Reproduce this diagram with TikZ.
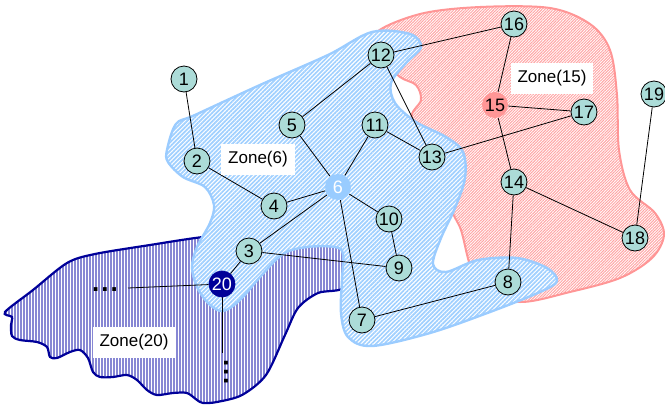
\documentclass[tikz,border=0pt]{standalone}
\usepackage{fontspec}
\setmainfont{Liberation Sans}
\usetikzlibrary{patterns.meta}
\definecolor{bline}{RGB}{155,204,255}
\definecolor{bhatch}{RGB}{160,208,255}
\definecolor{rline}{RGB}{255,150,150}
\definecolor{rhatch}{RGB}{255,165,165}
\definecolor{nline}{RGB}{0,0,153}
\definecolor{nhatch}{RGB}{135,135,212}
\definecolor{nodefill}{RGB}{172,220,216}
\definecolor{sixfill}{RGB}{153,204,255}
\definecolor{fiftfill}{RGB}{255,150,150}
\pgfdeclarelayer{zones}
\pgfdeclarelayer{edges}
\pgfsetlayers{zones,edges,main}
\begin{document}
\begin{tikzpicture}[x=1pt,y=-1pt,
  nd/.style={circle,draw=black,line width=0.8pt,fill=nodefill,minimum size=26pt,inner sep=0pt,font=\fontsize{18}{18}\selectfont},
  zonelabel/.style={fill=white,inner xsep=7pt,minimum height=31pt,font=\fontsize{17}{17}\selectfont},
  edge/.style={draw=black,line width=0.8pt},
  dotsstyle/.style={inner sep=0pt,font=\fontsize{26}{26}\selectfont\bfseries}]
\useasboundingbox (0,0) rectangle (665,410);
\begin{pgfonlayer}{zones}
% Zone 15 (red)
\path[preaction={fill=white},draw=rline,line width=2pt,pattern={Lines[angle=45,distance=2pt,line width=1pt]},pattern color=rhatch]
  plot[smooth cycle,tension=0.55] coordinates {
  (375,34) (420,14) (480,7) (550,8) (590,24) (610,50) (617,95) (619,150) (630,190)
  (655,213) (664,235) (652,258) (620,278) (570,292) (520,302) (480,290) (469,262)
  (461,230) (450,205) (440,150) (412,119) (421,100) (416,85) (400,77) (385,60)};
% Zone 20 (navy)
\path[preaction={fill=white},draw=nline,line width=2.2pt,pattern={Lines[angle=90,distance=3pt,line width=1.1pt]},pattern color=nhatch]
  plot[smooth cycle,tension=0.5] coordinates {
  (5,312) (33,290) (67,263) (95,254) (150,245) (203,237) (260,232) (320,236) (348,255)
  (345,287) (318,293) (298,308) (285,335) (266,375) (242,395) (217,402) (203,403)
  (197,400) (187,393) (173,393) (157,395) (147,390) (137,380) (127,375) (113,377)
  (100,377) (93,372) (88,358) (80,350) (70,352) (57,358) (50,357) (47,347) (37,342)
  (20,340) (12,336) (11,325) (12,317)};
% Zone 6 (blue)
\path[preaction={fill=white},draw=bline,line width=2.4pt,pattern={Lines[angle=45,distance=3pt,line width=1.7pt]},pattern color=bhatch]
  plot[smooth cycle,tension=0.55] coordinates {
  (167,150) (176,124) (195,115) (260,85) (328,55) (372,32) (410,34) (421,47) (406,63)
  (391,83) (395,103) (416,122) (446,137) (463,152) (465,178) (455,208) (441,238)
  (433,264) (446,272) (478,260) (517,258) (547,268) (557,281) (540,292) (490,312)
  (430,333) (372,346) (348,337) (341,313) (342,280) (343,254) (335,247) (307,247)
  (283,254) (260,277) (240,300) (223,311) (209,304) (197,287) (192,267) (197,247)
  (210,223) (214,205) (205,187) (183,177) (168,162)};
\end{pgfonlayer}
% nodes
\node[nd] (n1) at (184,79) {1};
\node[nd] (n2) at (197,161) {2};
\node[nd] (n3) at (249,251) {3};
\node[nd] (n4) at (274,206) {4};
\node[nd] (n5) at (292,125) {5};
\node[nd,draw=none,fill=sixfill,text=white] (n6) at (338,187) {6};
\node[nd] (n7) at (362,320) {7};
\node[nd] (n8) at (508,282) {8};
\node[nd] (n9) at (399,268) {9};
\node[nd] (n10) at (389,219) {10};
\node[nd] (n11) at (375,125) {11};
\node[nd] (n12) at (381,55) {12};
\node[nd] (n13) at (432,157) {13};
\node[nd] (n14) at (514,182) {14};
\node[nd,draw=none,fill=fiftfill] (n15) at (495,105) {15};
\node[nd] (n16) at (514,24) {16};
\node[nd] (n17) at (584,112) {17};
\node[nd] (n18) at (635,238) {18};
\node[nd] (n19) at (654,94) {19};
\node[nd,draw=nline,fill=nline,text=white] (n20) at (222,284) {20};
\coordinate (lend) at (128,288);
\coordinate (dend) at (222,353);
% edges
\begin{pgfonlayer}{edges}
\path[edge] (n1) -- (n2);
\path[edge] (n2) -- (n4);
\path[edge] (n4) -- (n6);
\path[edge] (n5) -- (n6);
\path[edge] (n5) -- (n12);
\path[edge] (n6) -- (n11);
\path[edge] (n6) -- (n3);
\path[edge] (n6) -- (n10);
\path[edge] (n6) -- (n7);
\path[edge] (n3) -- (n20);
\path[edge] (n3) -- (n9);
\path[edge] (n10) -- (n9);
\path[edge] (n11) -- (n13);
\path[edge] (n12) -- (n13);
\path[edge] (n12) -- (n16);
\path[edge] (n13) -- (n17);
\path[edge] (n15) -- (n16);
\path[edge] (n15) -- (n17);
\path[edge] (n15) -- (n14);
\path[edge] (n14) -- (n8);
\path[edge] (n14) -- (n18);
\path[edge] (n18) -- (n19);
\path[edge] (n7) -- (n8);
\path[edge] (n20) -- (lend);
\path[edge] (n20) -- (dend);
\end{pgfonlayer}
% labels
\node[zonelabel] (z6) at (258,159) {Zone(6)};
\node[zonelabel] (z15) at (552,78) {Zone(15)};
\node[zonelabel] (z20) at (134,342) {Zone(20)};
\node[dotsstyle] (hd) at (105,290) {.\kern2pt.\kern2pt.};
\node[dotsstyle,rotate=-90] (vd) at (226,372) {.\kern2pt.\kern2pt.};
\end{tikzpicture}
\end{document}
